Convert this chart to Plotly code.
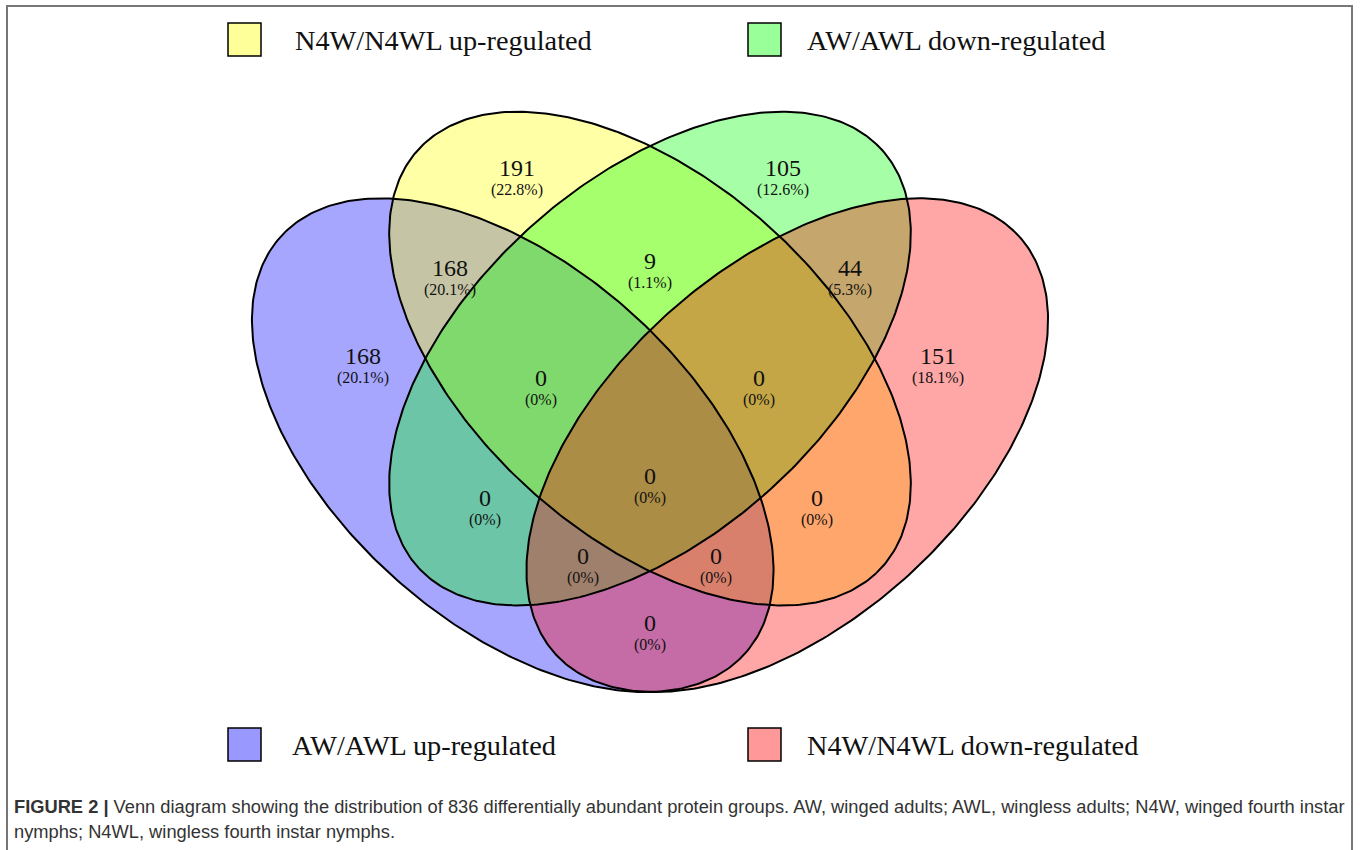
import numpy as np
import plotly.graph_objects as go

# ---------------- data ----------------
set_names = ["AW/AWL up-regulated", "N4W/N4WL up-regulated",
             "AW/AWL down-regulated", "N4W/N4WL down-regulated"]
set_fill = ["rgba(0,0,255,0.35)", "rgba(255,255,0,0.35)",
            "rgba(0,255,0,0.35)", "rgba(255,0,0,0.35)"]
legend_colors = ["#9898FF", "#FFFF99", "#99FF99", "#FF9999"]

# region counts and percentages
region_counts = [191, 105, 168, 151, 168, 9, 44, 0, 0, 0, 0, 0, 0, 0, 0]
region_pcts = ["22.8%", "12.6%", "20.1%", "18.1%", "20.1%", "1.1%", "5.3%",
               "0%", "0%", "0%", "0%", "0%", "0%", "0%", "0%"]
# label anchor positions (pixels)
region_x = [517, 783, 363, 938, 450, 650, 850, 541, 759, 650, 485, 817, 583, 716, 650]
region_y = [170, 170, 358, 358, 270, 263, 270, 380, 380, 478, 500, 500, 558, 558, 625]

caption_bold = "FIGURE 2 |"
caption_line1 = (" Venn diagram showing the distribution of 836 differentially abundant protein "
                 "groups. AW, winged adults; AWL, wingless adults; N4W, winged fourth instar")
caption_line2 = "nymphs; N4WL, wingless fourth instar nymphs."

# ---------------- geometry (VennDiagram-style unit layout) ----------------
ell_cx = [0.35, 0.50, 0.50, 0.65]
ell_cy = [0.47, 0.57, 0.57, 0.47]
ell_rot = [-45, -45, 45, 45]
ell_a, ell_b = 0.35, 0.20

SX, SY = 915.0, 866.0
X0, Y0 = 650.0, 692.0


def to_px(u, v):
    return X0 + (u - 0.5) * SX, Y0 - (v - 0.185) * SY


def ellipse_px(i):
    t = np.linspace(0, 2 * np.pi, 400)
    th = np.deg2rad(ell_rot[i])
    u = ell_cx[i] + ell_a * np.cos(t) * np.cos(th) - ell_b * np.sin(t) * np.sin(th)
    v = ell_cy[i] + ell_a * np.cos(t) * np.sin(th) + ell_b * np.sin(t) * np.cos(th)
    return to_px(u, v)


fig = go.Figure()
for i in range(4):
    px, py = ellipse_px(i)
    fig.add_trace(go.Scatter(x=px, y=py, mode="lines", fill="toself",
                             fillcolor=set_fill[i], line=dict(color="rgba(0,0,0,0)", width=0),
                             name=set_names[i], hoverinfo="skip", showlegend=False))
for i in range(4):
    px, py = ellipse_px(i)
    fig.add_trace(go.Scatter(x=px, y=py, mode="lines",
                             line=dict(color="black", width=2),
                             hoverinfo="skip", showlegend=False))

# region labels
fig.add_trace(go.Scatter(x=region_x, y=region_y, mode="text",
                         text=[str(c) for c in region_counts],
                         textfont=dict(family="Liberation Serif", size=24, color="#111"),
                         showlegend=False, hoverinfo="skip"))
fig.add_trace(go.Scatter(x=region_x, y=[y + 21 for y in region_y], mode="text",
                         text=["(" + p + ")" for p in region_pcts],
                         textfont=dict(family="Liberation Serif", size=16, color="#111"),
                         showlegend=False, hoverinfo="skip"))

# legend boxes
legend_pos = [(228, 728), (228, 23), (748, 23), (748, 728)]
legend_text_off = [62, 65, 57, 57]
shapes = []
annotations = []
for i in range(4):
    lx, ly = legend_pos[i]
    shapes.append(dict(type="rect", xref="x", yref="y", x0=lx, x1=lx + 33, y0=ly, y1=ly + 33,
                       fillcolor=legend_colors[i], line=dict(color="black", width=1.5)))
    annotations.append(dict(x=lx + legend_text_off[i], y=ly + 17, xref="x", yref="y",
                            text=set_names[i],
                            showarrow=False, xanchor="left", yanchor="middle",
                            font=dict(family="Liberation Serif", size=28.3, color="#111")))

# frame
shapes.append(dict(type="rect", xref="x", yref="y", x0=7, x1=1352, y0=6, y1=870,
                   line=dict(color="#777", width=2), fillcolor="rgba(0,0,0,0)"))

# caption
annotations.append(dict(x=12, y=806, xref="x", yref="y",
                        text="<b>" + caption_bold + "</b>" + caption_line1,
                        showarrow=False, xanchor="left", yanchor="middle",
                        font=dict(family="Liberation Sans", size=18.3, color="#333")))
annotations.append(dict(x=12, y=831, xref="x", yref="y", text=caption_line2,
                        showarrow=False, xanchor="left", yanchor="middle",
                        font=dict(family="Liberation Sans", size=18.3, color="#333")))

fig.update_layout(
    width=1360, height=850,
    margin=dict(l=0, r=0, t=0, b=0),
    paper_bgcolor="white", plot_bgcolor="white",
    xaxis=dict(range=[0, 1360], visible=False, fixedrange=True),
    yaxis=dict(range=[850, 0], visible=False, fixedrange=True),
    shapes=shapes, annotations=annotations,
)
fig.write_html("out.html", config={"displayModeBar": False},
               post_script="document.body.style.margin='0';document.body.style.overflow='hidden';")
